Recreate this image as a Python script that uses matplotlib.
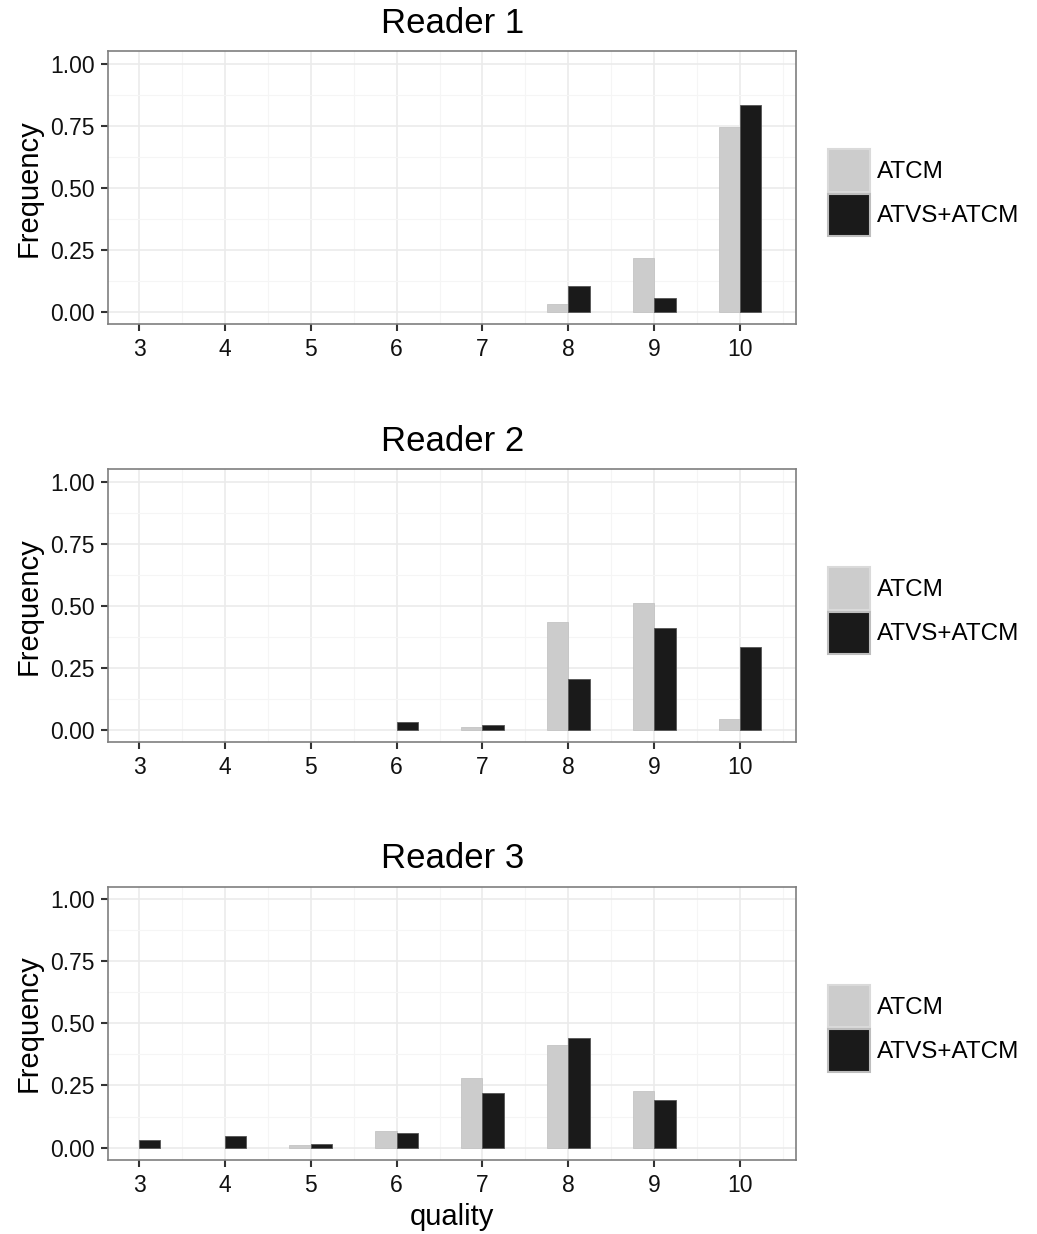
import matplotlib.pyplot as plt
from matplotlib.patches import Patch
import numpy as np

plt.rcParams['font.family'] = ['Liberation Sans', 'DejaVu Sans']

quality = [3, 4, 5, 6, 7, 8, 9, 10]
series = ["ATCM", "ATVS+ATCM"]

# frequencies
r1_atcm = [0, 0, 0, 0, 0, 0.032, 0.215, 0.746]
r1_atvs = [0, 0, 0, 0, 0, 0.102, 0.056, 0.835]
r2_atcm = [0, 0, 0, 0, 0.010, 0.433, 0.510, 0.042]
r2_atvs = [0, 0, 0, 0.032, 0.018, 0.203, 0.410, 0.335]
r3_atcm = [0, 0, 0.010, 0.065, 0.282, 0.414, 0.229, 0]
r3_atvs = [0.032, 0.045, 0.016, 0.059, 0.218, 0.441, 0.192, 0]

readers = ["Reader 1", "Reader 2", "Reader 3"]
data = [(r1_atcm, r1_atvs), (r2_atcm, r2_atvs), (r3_atcm, r3_atvs)]

light = "#CCCCCC"
dark = "#1A1A1A"

W, H = 1037, 1234
fig = plt.figure(figsize=(W / 100, H / 100), dpi=100)

# panel boxes in pixels: top, bottom
boxes = [(51.3, 324.1), (469.3, 742.1), (886.5, 1160.1)]
left, right = 108.3, 796

x = np.array(quality)
bw = 0.25
for i, (title, (a, b)) in enumerate(zip(readers, data)):
    top, bot = boxes[i]
    a = np.array(a)
    b = np.array(b)
    ax = fig.add_axes([left / W, 1 - bot / H, (right - left) / W, (bot - top) / H])
    ma, mb = a > 0, b > 0
    ax.bar(x[ma] - bw / 2, a[ma], width=bw, color=light, edgecolor="#C4C4C4", linewidth=0.6, zorder=3)
    ax.bar(x[mb] + bw / 2, b[mb], width=bw, color=dark, edgecolor="#555555", linewidth=0.6, zorder=3)
    ax.set_xticks(quality)
    ax.set_xticks(np.arange(3.5, 10.6, 1), minor=True)
    ax.set_yticks([0, 0.25, 0.5, 0.75, 1.0])
    ax.set_yticklabels(["0.00", "0.25", "0.50", "0.75", "1.00"])
    ax.set_yticks(np.arange(0.125, 1.0, 0.25), minor=True)
    ax.set_xlim(2.642, 10.652)
    ax.set_ylim(-0.05, 1.05)
    ax.grid(which="major", color="#EBEBEB", linewidth=1.2, zorder=0)
    ax.grid(which="minor", color="#F5F5F5", linewidth=0.8, zorder=0)
    ax.set_axisbelow(True)
    for s in ax.spines.values():
        s.set_color("#7F7F7F")
        s.set_linewidth(1.2)
    ax.tick_params(which="major", length=5, width=1.5, color="#333333",
                   labelsize=16.5, labelcolor="#111111", pad=5)
    ax.tick_params(which="minor", length=0)
    ax.set_title(title, fontsize=25, pad=13)
    ax.set_ylabel("Frequency", fontsize=21, labelpad=5)
    if i == 2:
        ax.set_xlabel("quality", fontsize=21, labelpad=4)

    handles = [Patch(facecolor=light, edgecolor="#DADADA", linewidth=1.5),
               Patch(facecolor=dark, edgecolor="#BDBDBD", linewidth=1.5)]
    fig.legend(handles, series, loc="center left",
               bbox_to_anchor=(828 / W, 1 - ((top + bot) / 2 + 5) / H),
               frameon=False, fontsize=17.5, handlelength=1.72, handleheight=2.3,
               labelspacing=0.08, handletextpad=0.3, borderpad=0, borderaxespad=0)

fig.savefig("out.png", dpi=100, facecolor="white")
